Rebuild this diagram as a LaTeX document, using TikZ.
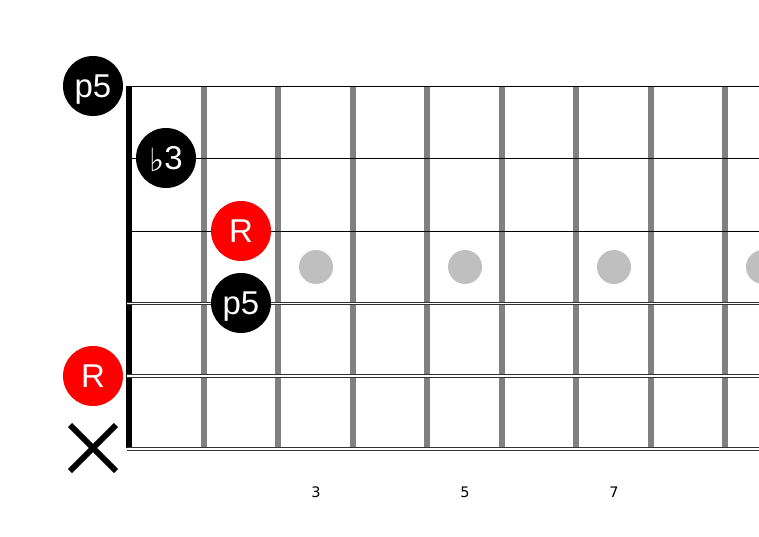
\documentclass[tikz,border=0pt]{standalone}
\usepackage{fontspec}
\setmainfont{Liberation Sans}
\newfontfamily\djv{DejaVu Sans}
\begin{document}
\begin{tikzpicture}[x=1pt,y=-1pt,
  thinstring/.style={draw=black,line width=0.9pt},
  woundstring/.style={draw=black!80,line width=0.9pt,double=white},
  fretbar/.style={draw=black!50,line width=6pt},
  nutbar/.style={draw=black,line width=6pt},
  inlay/.style={circle,fill=black!25,minimum size=34pt,inner sep=0pt},
  note/.style={circle,minimum size=60pt,inner sep=0pt,text depth=0pt,text=white,font=\fontsize{33}{33}\selectfont},
  blacknote/.style={note,fill=black},
  rootnote/.style={note,fill=red},
  fretnum/.style={font=\djv\fontsize{14.5}{14.5}\selectfont}]
\useasboundingbox (0,0) rectangle (759,537);
\clip (0,0) rectangle (759,537);
% inlays
\foreach \n/\x in {a/316,b/465,c/614,d/763} \node[inlay] (dot\n) at (\x,267) {};
% frets
\foreach \i in {1,...,8} \draw[fretbar] ({129+74.5*\i},86) -- ({129+74.5*\i},448);
% nut
\draw[nutbar] (129,86) -- (129,448);
% strings
\draw[thinstring] (127,86) -- (770,86);
\draw[thinstring] (127,158) -- (770,158);
\draw[thinstring] (127,231) -- (770,231);
\draw[woundstring,double distance=1pt] (127,303.3) -- (770,303.3);
\draw[woundstring,double distance=2pt] (127,375.8) -- (770,375.8);
\draw[woundstring,double distance=2.4pt] (127,449) -- (770,449);
% notes
\node[blacknote] (n1) at (93,86) {p5};
\node[blacknote] (n2) at (166,158) {{\djv\fontsize{32}{32}\selectfont\raisebox{-2pt}{♭}}3};
\node[rootnote] (n3) at (241,231) {R};
\node[blacknote] (n4) at (241,303) {p5};
\node[rootnote] (n5) at (93,376) {R};
% muted string
\draw[line width=6pt] (70,425) -- (116,471) (116,425) -- (70,471);
% fret numbers
\node[fretnum] (f3) at (316,492) {3};
\node[fretnum] (f5) at (465,492) {5};
\node[fretnum] (f7) at (614,492) {7};
\end{tikzpicture}
\end{document}
